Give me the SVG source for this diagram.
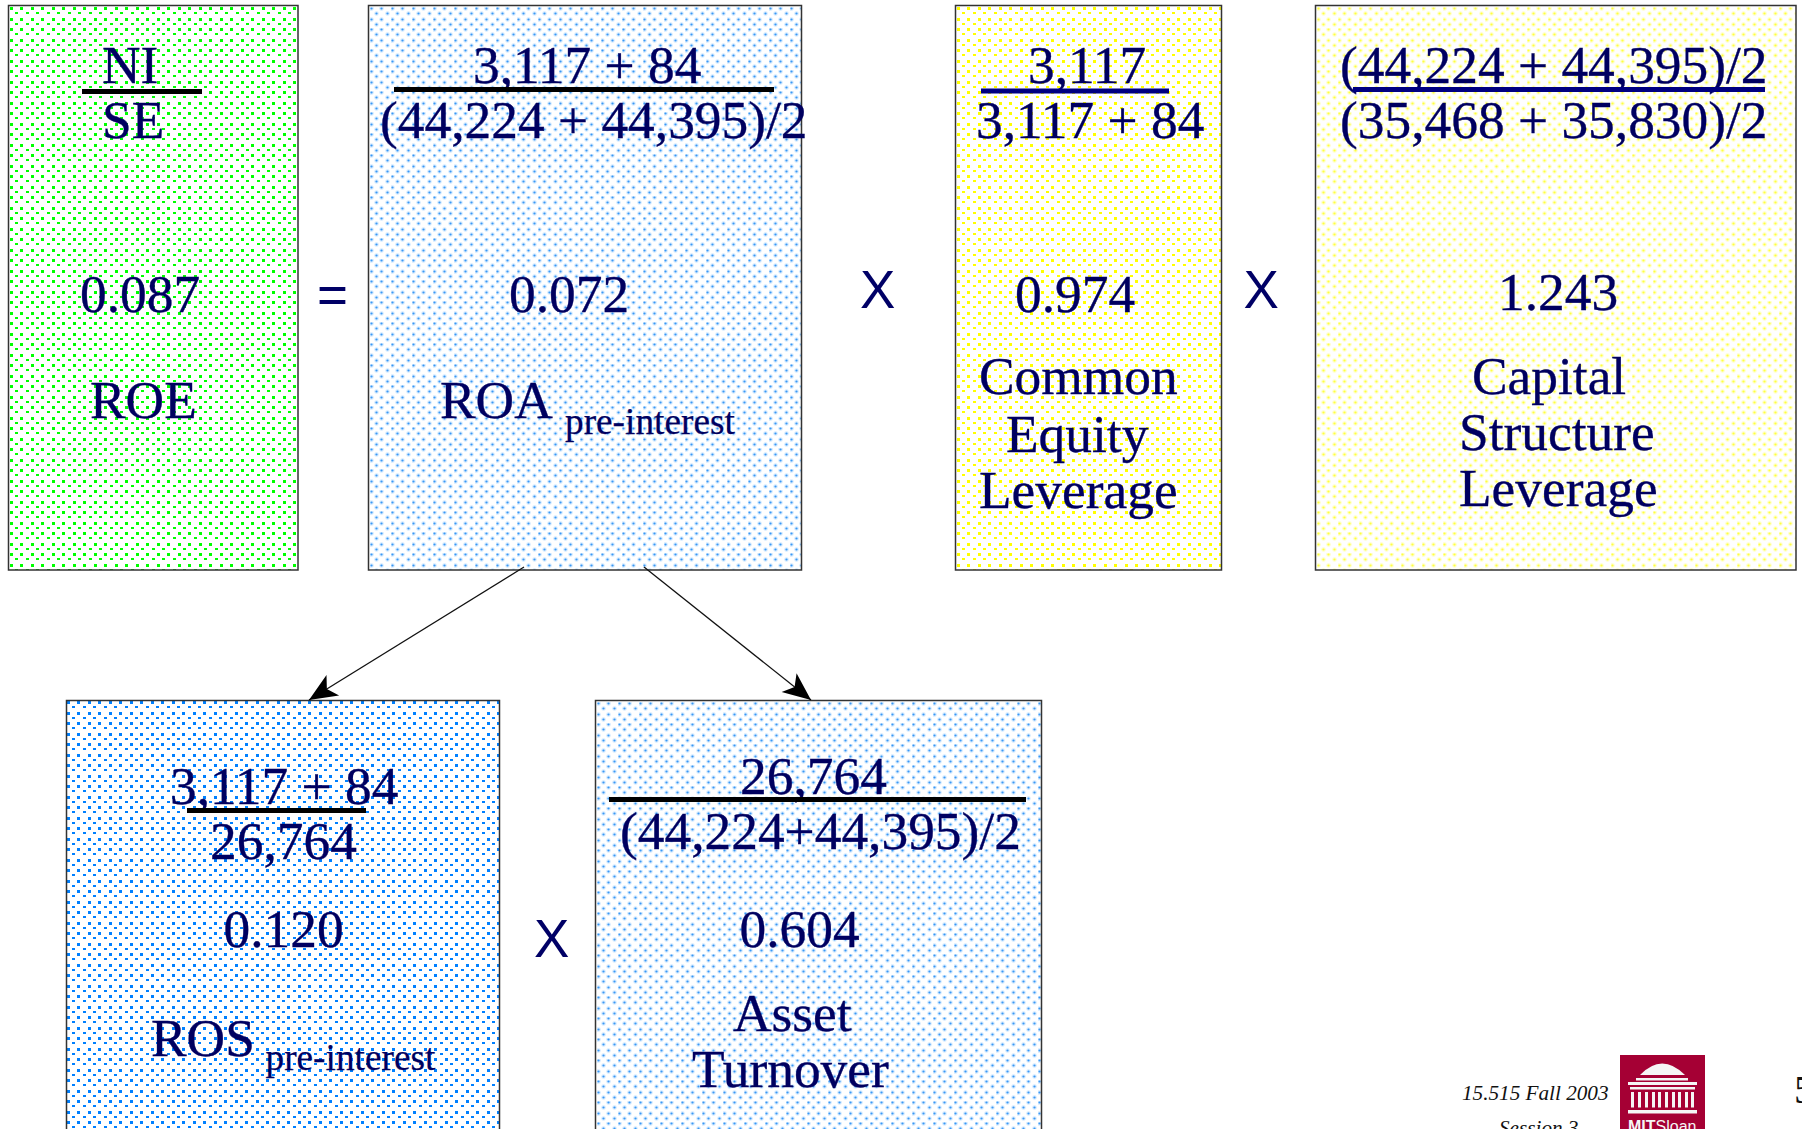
<svg xmlns="http://www.w3.org/2000/svg" width="1802" height="1129" viewBox="0 0 1802 1129">
<style>
.b{stroke:#333;stroke-width:1.5}
.t{font-family:"Liberation Serif","Times New Roman",serif;font-size:53.4px;fill:#000060;stroke:#000060;stroke-width:.35}
.s{font-size:37.3px;stroke-width:.25}
.x{font-family:"Liberation Sans",Arial,sans-serif;font-size:53px;fill:#000066}
.r{stroke:#000;stroke-width:5}
.n{stroke:#000080;stroke-width:5}
.c{stroke:#111;stroke-width:1.3;fill:none;marker-end:url(#ah)}
.f{font-family:"Liberation Serif","Times New Roman",serif;font-size:21.2px;font-style:italic;fill:#111}
.gd{fill:#00ff00}.dd{fill:#0080ff}.yd{fill:#ffff00}
.bh{fill:#d2e9ff}.bc{fill:#3a98f5}.yh{fill:#ffffc8}.yc{fill:#ffff40}
</style>
<defs>
<marker id="ah" markerUnits="userSpaceOnUse" markerWidth="34" markerHeight="30" refX="30" refY="15" orient="auto"><path d="M30,15 L2,3 L9,15 L2,27 Z" fill="#000"/></marker>
<g id="sq"><rect x="0" y="0" width="3" height="3"/><rect x="10" y="0" width="3" height="3"/><rect x="5" y="5" width="3" height="2"/><rect x="16" y="5" width="3" height="2"/><rect x="0" y="11" width="3" height="3"/><rect x="10" y="11" width="3" height="3"/><rect x="5" y="16" width="3" height="2"/><rect x="16" y="16" width="3" height="2"/></g>
<g id="hl"><circle cx="1.5" cy="1.5" r="2.3"/><circle cx="11.5" cy="1.5" r="2.3"/><circle cx="6.5" cy="6.5" r="2.3"/><circle cx="17.5" cy="6.5" r="2.3"/><circle cx="1.5" cy="12.5" r="2.3"/><circle cx="11.5" cy="12.5" r="2.3"/><circle cx="6.5" cy="17.5" r="2.3"/><circle cx="17.5" cy="17.5" r="2.3"/></g>
<g id="co"><circle cx="1.5" cy="1.5" r="1.1"/><circle cx="11.5" cy="1.5" r="1.1"/><circle cx="6.5" cy="6.5" r="1.1"/><circle cx="17.5" cy="6.5" r="1.1"/><circle cx="1.5" cy="12.5" r="1.1"/><circle cx="11.5" cy="12.5" r="1.1"/><circle cx="6.5" cy="17.5" r="1.1"/><circle cx="17.5" cy="17.5" r="1.1"/></g>
<pattern id="pg" patternUnits="userSpaceOnUse" width="21" height="21" x="10" y="7"><use href="#sq" class="gd"/></pattern>
<pattern id="pd" patternUnits="userSpaceOnUse" width="21" height="21" x="67" y="701"><use href="#sq" class="dd"/></pattern>
<pattern id="py" patternUnits="userSpaceOnUse" width="21" height="21" x="957" y="7"><use href="#sq" class="yd"/></pattern>
<pattern id="pb" patternUnits="userSpaceOnUse" width="21" height="21" x="370" y="7"><use href="#hl" class="bh"/><use href="#co" class="bc"/></pattern>
<pattern id="pe" patternUnits="userSpaceOnUse" width="21" height="21" x="597" y="702"><use href="#hl" class="bh"/><use href="#co" class="bc"/></pattern>
<pattern id="pz" patternUnits="userSpaceOnUse" width="21" height="21" x="1317" y="7"><use href="#hl" class="yh"/><use href="#co" class="yc"/></pattern>
</defs>
<rect width="1802" height="1129" fill="#fff"/>
<g id="roe">
<rect class="b" x="8.5" y="5.5" width="289.5" height="564.5" fill="url(#pg)"/>
<text class="t" x="102" y="83">NI</text><line class="r" x1="82" y1="91.5" x2="202" y2="91.5"/>
<text class="t" x="102" y="138">SE</text>
<text class="t" x="80" y="312">0.087</text><text class="t" x="90" y="418">ROE</text>
</g>
<text class="x" x="317" y="313">=</text>
<g id="roa">
<rect class="b" x="368.5" y="5.5" width="433" height="564.5" fill="url(#pb)"/>
<text class="t" x="473" y="83">3,117 + 84</text><line class="r" x1="394" y1="89.5" x2="774" y2="89.5"/>
<text class="t" x="380" y="138">(44,224 + 44,395)/2</text>
<text class="t" x="509" y="312">0.072</text>
<text class="t" x="440" y="418">ROA</text><text class="t s" x="565" y="434">pre-interest</text>
</g>
<text class="x" x="860" y="308">X</text>
<g id="cel">
<rect class="b" x="955.5" y="5.5" width="266" height="564.5" fill="url(#py)"/>
<text class="t" x="1028" y="83">3,117</text><line class="n" x1="981" y1="91" x2="1169" y2="91"/>
<text class="t" x="976" y="138">3,117 + 84</text>
<text class="t" x="1015" y="312">0.974</text>
<text class="t" x="979" y="394">Common</text><text class="t" x="1006" y="452">Equity</text><text class="t" x="979" y="508">Leverage</text>
</g>
<text class="x" x="1243.5" y="308">X</text>
<g id="csl">
<rect class="b" x="1315.5" y="5.5" width="480.5" height="564.5" fill="url(#pz)"/>
<text class="t" x="1340" y="83">(44,224 + 44,395)/2</text><line class="n" x1="1353" y1="89.5" x2="1765" y2="89.5"/>
<text class="t" x="1340" y="138">(35,468 + 35,830)/2</text>
<text class="t" x="1498" y="310">1.243</text>
<text class="t" x="1472" y="394">Capital</text><text class="t" x="1459" y="450">Structure</text><text class="t" x="1459" y="506">Leverage</text>
</g>
<g id="ros">
<rect class="b" x="66.5" y="700.5" width="433" height="440" fill="url(#pd)"/>
<text class="t" x="170" y="804">3,117 + 84</text><line class="r" x1="187" y1="810.5" x2="366" y2="810.5"/>
<text class="t" x="210" y="859">26,764</text>
<text class="t" x="223.5" y="947">0.120</text>
<text class="t" x="151" y="1056">ROS</text><text class="t s" x="265.5" y="1070">pre-interest</text>
</g>
<text class="x" x="534" y="957">X</text>
<g id="at">
<rect class="b" x="595.5" y="700.5" width="446" height="440" fill="url(#pe)"/>
<text class="t" x="740" y="794">26,764</text><line class="r" x1="609" y1="799.5" x2="1026" y2="799.5"/>
<text class="t" x="620" y="849">(44,224+44,395)/2</text>
<text class="t" x="739.5" y="947">0.604</text>
<text class="t" x="733" y="1031">Asset</text><text class="t" x="692" y="1087">Turnover</text>
</g>
<g id="connectors">
<line class="c" x1="524" y1="567" x2="309" y2="700"/>
<line class="c" x1="644" y1="567" x2="811" y2="700"/>
</g>
<g id="footer">
<text class="f" x="1462" y="1100">15.515 Fall 2003</text>
<text class="f" x="1499" y="1135">Session 3</text>
<text x="1794" y="1103" font-family="Liberation Serif,serif" font-size="40" fill="#111">5</text>
<rect x="1620" y="1055" width="85" height="80" fill="#a50034"/>
<path d="M1640,1075 Q1662,1052 1685,1075 Z" fill="#f5f5f5"/>
<g fill="#f5f5f5">
<rect x="1636" y="1078" width="52" height="2.5"/><rect x="1628" y="1082" width="69" height="3"/><rect x="1630" y="1087" width="65" height="2.5"/>
<rect x="1631" y="1092" width="3" height="15.5"/><rect x="1638" y="1092" width="3" height="15.5"/><rect x="1645" y="1092" width="3" height="15.5"/><rect x="1652" y="1092" width="3" height="15.5"/><rect x="1658" y="1092" width="3" height="15.5"/><rect x="1665" y="1092" width="3" height="15.5"/><rect x="1672" y="1092" width="3" height="15.5"/><rect x="1678" y="1092" width="3" height="15.5"/><rect x="1685" y="1092" width="3" height="15.5"/><rect x="1691" y="1092" width="3" height="15.5"/>
<rect x="1628" y="1110" width="69" height="3.5"/>
<text x="1628" y="1132" font-family="Liberation Sans,sans-serif" font-size="16"><tspan font-weight="bold">MIT</tspan>Sloan</text>
</g>
</g>
</svg>
